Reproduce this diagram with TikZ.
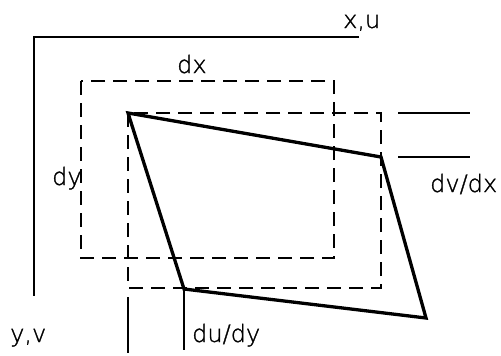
\documentclass[tikz,border=0pt]{standalone}
\usepackage{fontspec}
\newfontfamily\lblfont[FakeBold=1.2]{DejaVu Sans ExtraLight}
\begin{document}
\begin{tikzpicture}[x=1pt,y=-1pt,
  axis/.style={line width=1.4pt},
  dsh/.style={line width=1.5pt,dash pattern=on 14pt off 8pt},
  quad/.style={line width=3.3pt,line join=miter},
  thin/.style={line width=1.3pt},
  lbl/.style={anchor=base west,inner sep=0pt,font=\lblfont\fontsize{24}{28}\selectfont}]
\useasboundingbox (0,0) rectangle (501,356);
% axes
\coordinate (O) at (34,37);
\coordinate (Xe) at (359,37);
\coordinate (Ye) at (34,296);
\draw[axis] (Xe) -- (O) -- (Ye);
% dashed rectangles
\coordinate (R1a) at (81,81);
\coordinate (R1b) at (334,258);
\coordinate (R2a) at (128,113);
\coordinate (R2b) at (381,288);
\draw[dsh] (R1a) rectangle (R1b);
\draw[dsh] (R2a) rectangle (R2b);
% deformed element
\coordinate (A) at (128,113);
\coordinate (B) at (381,157);
\coordinate (C) at (426,318);
\coordinate (D) at (184,289);
\draw[quad] (A) -- (B) -- (C) -- (D) -- cycle;
% reference lines
\coordinate (L1a) at (398,113); \coordinate (L1b) at (470,113);
\coordinate (L2a) at (398,157); \coordinate (L2b) at (470,157);
\draw[thin] (L1a) -- (L1b);
\draw[thin] (L2a) -- (L2b);
\coordinate (V1a) at (128,297); \coordinate (V1b) at (128,353);
\coordinate (V2a) at (184,289); \coordinate (V2b) at (184,350);
\draw[thin] (V1a) -- (V1b);
\draw[thin] (V2a) -- (V2b);
% labels
\node[lbl] (xu) at (343,28) {x,u};
\node[lbl] (dx) at (177,73) {dx};
\node[lbl] (dy) at (52,185) {dy};
\node[lbl] (dvdx) at (430,192) {dv/dx};
\node[lbl] (dudy) at (192,342) {du/dy};
\node[lbl] (yv) at (10,342) {y,v};
\end{tikzpicture}
\end{document}
